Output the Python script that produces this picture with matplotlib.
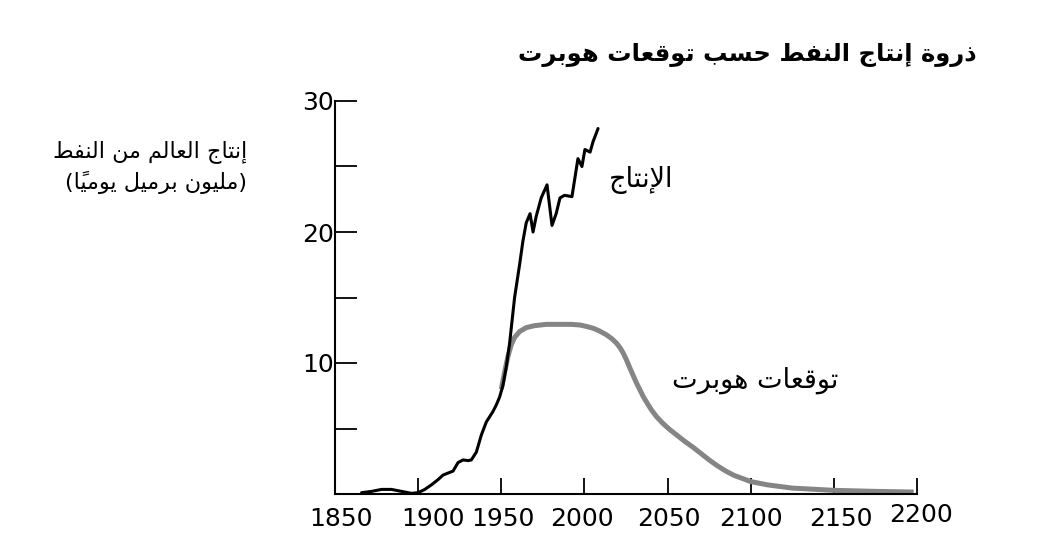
import matplotlib
matplotlib.use("Agg")
import matplotlib.pyplot as plt
from matplotlib.transforms import ScaledTranslation

# --- data ---
prod_years = [1866, 1872, 1878, 1884, 1890, 1896, 1900, 1904, 1908, 1912,
              1915, 1918, 1921, 1924, 1927, 1930, 1932, 1935, 1938, 1941,
              1943, 1945, 1947, 1949, 1951, 1953, 1955, 1958, 1961, 1963,
              1965, 1967.3, 1969.1, 1971, 1974, 1977.5, 1980.5, 1983, 1985.3,
              1988, 1992.5, 1996.1, 1998.5, 2000.3, 2003.4, 2005.2, 2008.2]
prod_values = [0.1, 0.2, 0.35, 0.35, 0.2, 0.05, 0.1, 0.35, 0.7, 1.1,
               1.45, 1.6, 1.75, 2.4, 2.6, 2.55, 2.6, 3.2, 4.5, 5.5,
               5.9, 6.3, 6.8, 7.4, 8.3, 9.7, 11.5, 15.0, 17.5, 19.3,
               20.7, 21.4, 20.0, 21.2, 22.6, 23.6, 20.5, 21.4, 22.6,
               22.8, 22.7, 25.6, 25.0, 26.3, 26.1, 26.9, 27.9]

hubbert_years = [1950, 1952, 1954, 1956, 1958, 1961, 1965, 1970, 1977, 1985,
                 1992, 1997.3, 2001, 2005.3, 2009, 2013.4, 2016.5, 2019.4,
                 2021.5, 2023.4, 2025.4, 2027.4, 2029.4, 2031.4, 2035.4,
                 2038, 2040.4, 2043.5, 2047.5, 2051, 2055.5, 2060, 2065.5,
                 2070, 2075, 2080, 2085, 2090, 2100, 2110, 2125, 2150, 2175,
                 2198]
hubbert_values = [8.0, 9.3, 10.5, 11.4, 11.95, 12.4, 12.7, 12.85, 12.95, 12.95,
                  12.95, 12.9, 12.8, 12.65, 12.45, 12.14, 11.85, 11.5,
                  11.15, 10.74, 10.2, 9.6, 9.02, 8.45, 7.43,
                  6.88, 6.4, 5.88, 5.35, 4.95, 4.5, 4.05, 3.55,
                  3.1, 2.6, 2.15, 1.75, 1.42, 0.95, 0.7, 0.45, 0.28, 0.2,
                  0.15]

x_ticks = [1850, 1900, 1950, 2000, 2050, 2100, 2150, 2200]
y_major = [10, 20, 30]
y_minor = [5, 15, 25]

title = "ذروة إنتاج النفط حسب توقعات هوبرت"
ylabel_1 = "إنتاج العالم من النفط"
ylabel_2 = "(مليون برميل يومياً)"
prod_label = "الإنتاج"
hubbert_label = "توقعات هوبرت"


# small arabic shaper: presentation forms + visual (reversed) order
FORMS = {
    'ا': ('\uFE8D', '\uFE8E', None, None),
    'إ': ('\uFE87', '\uFE88', None, None),
    'ب': ('\uFE8F', '\uFE90', '\uFE91', '\uFE92'),
    'ة': ('\uFE93', '\uFE94', None, None),
    'ت': ('\uFE95', '\uFE96', '\uFE97', '\uFE98'),
    'ج': ('\uFE9D', '\uFE9E', '\uFE9F', '\uFEA0'),
    'ح': ('\uFEA1', '\uFEA2', '\uFEA3', '\uFEA4'),
    'ذ': ('\uFEAB', '\uFEAC', None, None),
    'ر': ('\uFEAD', '\uFEAE', None, None),
    'س': ('\uFEB1', '\uFEB2', '\uFEB3', '\uFEB4'),
    'ط': ('\uFEC1', '\uFEC2', '\uFEC3', '\uFEC4'),
    'ع': ('\uFEC9', '\uFECA', '\uFECB', '\uFECC'),
    'ف': ('\uFED1', '\uFED2', '\uFED3', '\uFED4'),
    'ق': ('\uFED5', '\uFED6', '\uFED7', '\uFED8'),
    'ل': ('\uFEDD', '\uFEDE', '\uFEDF', '\uFEE0'),
    'م': ('\uFEE1', '\uFEE2', '\uFEE3', '\uFEE4'),
    'ن': ('\uFEE5', '\uFEE6', '\uFEE7', '\uFEE8'),
    'ه': ('\uFEE9', '\uFEEA', '\uFEEB', '\uFEEC'),
    'و': ('\uFEED', '\uFEEE', None, None),
    'ي': ('\uFEF1', '\uFEF2', '\uFEF3', '\uFEF4'),
    'لإ': ('\uFEF9', '\uFEFA', None, None),
}
MARKS = '\u064B'
MIRROR = {'(': ')', ')': '('}


def shape(text):
    clusters = []
    i = 0
    while i < len(text):
        ch = text[i]
        if ch == 'ل' and i + 1 < len(text) and text[i + 1] == 'إ':
            ch = 'لإ'
            i += 1
        clusters.append([ch, ''])
        i += 1
        while i < len(text) and text[i] in MARKS:
            clusters[-1][1] += text[i]
            i += 1

    out = []
    for k, (ch, mark) in enumerate(clusters):
        if ch in FORMS:
            prev = clusters[k - 1][0] if k > 0 else None
            nxt = clusters[k + 1][0] if k + 1 < len(clusters) else None
            join_prev = prev in FORMS and FORMS[prev][2] is not None
            join_next = FORMS[ch][2] is not None and nxt in FORMS
            f = FORMS[ch]
            if join_prev and join_next:
                g = f[3]
            elif join_prev:
                g = f[1]
            elif join_next:
                g = f[2]
            else:
                g = f[0]
            out.append(g + mark)
        else:
            out.append(MIRROR.get(ch, ch) + mark)
    return ''.join(reversed(out))


plt.rcParams['font.family'] = ['DejaVu Sans']

fig = plt.figure(figsize=(10.38, 5.52), dpi=100)
ax = fig.add_axes([335 / 1038, 58 / 552, 582 / 1038, 393 / 552])

ax.plot(hubbert_years, hubbert_values, color='#858585', lw=3.6,
        solid_capstyle='butt', solid_joinstyle='round')
ax.plot(prod_years, prod_values, color='black', lw=2.2,
        solid_capstyle='round', solid_joinstyle='round')

ax.set_xlim(1850, 2200)
ax.set_ylim(0, 30)
ax.spines['top'].set_visible(False)
ax.spines['right'].set_visible(False)
ax.spines['left'].set_linewidth(1.5)
ax.spines['bottom'].set_linewidth(1.5)

ax.set_xticks(x_ticks)
ax.set_xticklabels([str(v) for v in x_ticks])
ax.set_yticks(y_major)
ax.set_yticks(y_minor, minor=True)
ax.tick_params(axis='y', which='both', direction='in', length=16, width=1.3,
               labelsize=18, pad=1)
ax.tick_params(axis='x', direction='in', length=11.5, width=1.3,
               labelsize=18, pad=9)

# the x labels in the reference are not exactly centred on their ticks
shifts = [(6, 0), (15, 0), (2, 0), (-2, 0), (1, 0), (0, 0), (7, 0), (4, 3)]
for lab, (dx, dy) in zip(ax.get_xticklabels(), shifts):
    lab.set_transform(lab.get_transform() +
                      ScaledTranslation(dx / 100, dy / 100, fig.dpi_scale_trans))

fig.text(977 / 1038, 1 - 55 / 552, shape(title), ha='right', va='center',
         fontsize=17.5, fontweight='bold')
fig.text(247 / 1038, 1 - 152 / 552, shape(ylabel_1), ha='right', va='center',
         fontsize=16)
fig.text(247 / 1038, 1 - 182 / 552, shape(ylabel_2), ha='right', va='center',
         fontsize=16)

ax.text(2053.3, 24.0, shape(prod_label), ha='right', va='center', fontsize=19.5)
ax.text(2152.5, 8.7, shape(hubbert_label), ha='right', va='center', fontsize=19.5)

fig.savefig('out.png', dpi=100)
